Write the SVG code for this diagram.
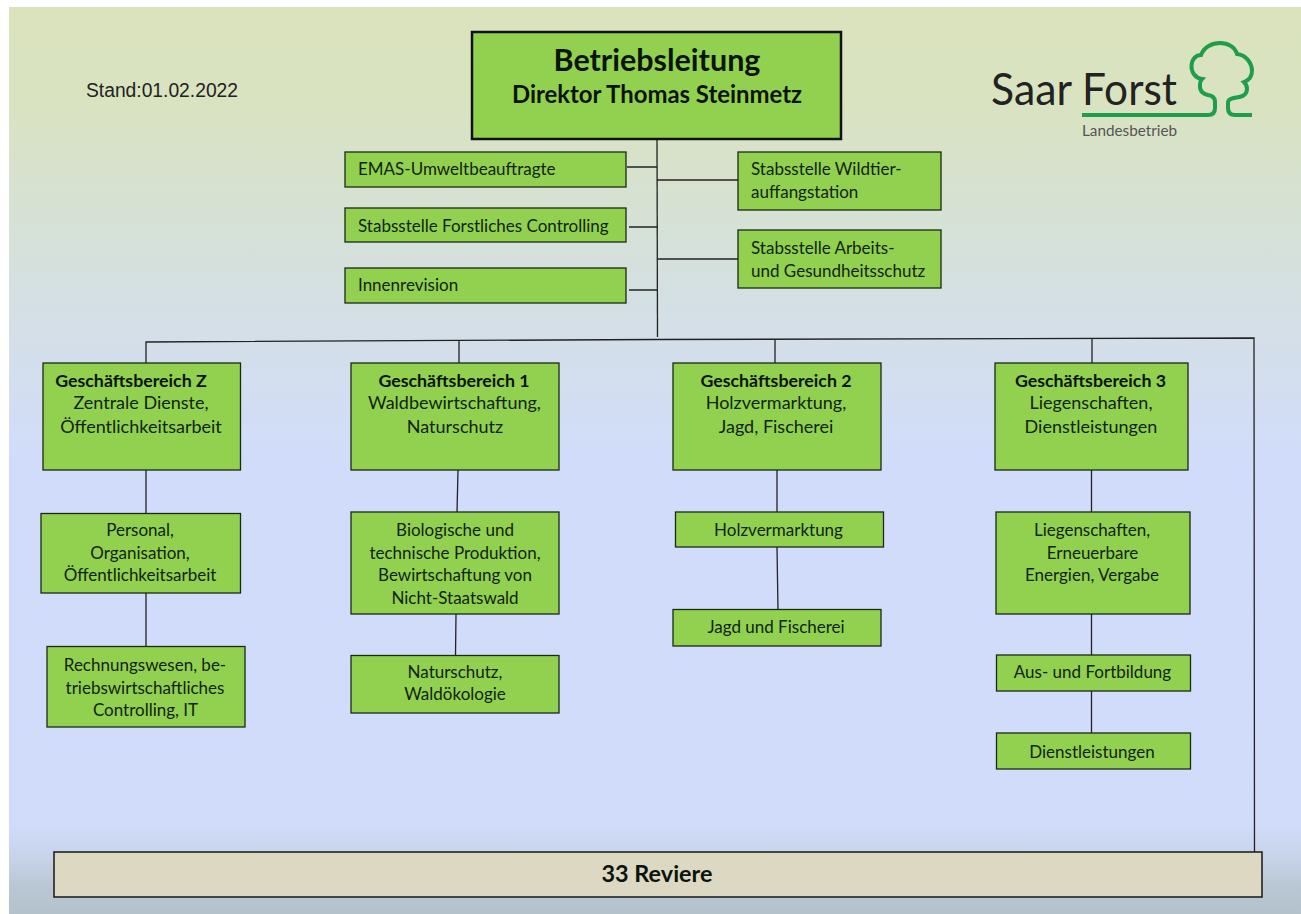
<svg xmlns="http://www.w3.org/2000/svg" width="1301" height="914" viewBox="0 0 1301 914">
<defs>
<linearGradient id="bg" x1="0" y1="0" x2="0" y2="1">
<stop offset="0" stop-color="#dae3bd"/><stop offset="0.1" stop-color="#d9e3c0"/><stop offset="0.3" stop-color="#d5e0e0"/><stop offset="0.5" stop-color="#d1dcfb"/><stop offset="0.9" stop-color="#d1dcfb"/><stop offset="0.94" stop-color="#c6d3e8"/><stop offset="0.97" stop-color="#b8c7d3"/><stop offset="1" stop-color="#b3c2cb"/>
</linearGradient>
</defs>
<style>
text{font-family:Lato,"Liberation Sans",sans-serif;fill:#10240f;font-size:17px}
.g{font-size:18px}
.b{font-weight:700;font-size:17.8px;fill:#0b140a}
.m{text-anchor:middle}
.box{fill:#92d14f;stroke:#1a2a16;stroke-width:1.3}
.c{fill:none;stroke:#222;stroke-width:1.3}
</style>
<rect width="1301" height="914" fill="#fff"/>
<rect x="9" y="7" width="1292" height="907" fill="url(#bg)"/>
<text x="86" y="97" textLength="152" lengthAdjust="spacingAndGlyphs" style="font-family:'Liberation Sans',sans-serif;font-size:20px;fill:#222">Stand:01.02.2022</text>
<g id="connectors">
<path class="c" d="M657 139L657.5 337"/>
<path class="c" d="M627 167H657M657 180H738M629 227H658M657.5 259H738M629 290H658"/>
<path class="c" d="M146 363V342L657 339.500L1254 338L1254.500 852"/>
<path class="c" d="M459 341V363M775 340V363M1092 339V363"/>
<path class="c" d="M146 470V514M146 593V647M458 470L457 512M456 614L455.500 656M777 470V512M777 547L778 610M1091.500 470V512M1091.500 614V655M1091.500 691V733"/>
</g>
<g id="n0"><rect x="472" y="32" width="369" height="107" style="fill:#92d14f;stroke:#111;stroke-width:2.5"/>
<text x="657" y="71" class="b m" style="font-size:30.5px">Betriebsleitung</text><text x="657" y="103" class="b m" style="font-size:23.9px">Direktor Thomas Steinmetz</text></g>
<g id="n1"><rect class="box" x="345" y="152" width="281" height="35"/><text x="358" y="175">EMAS-Umweltbeauftragte</text></g>
<g id="n2"><rect class="box" x="345" y="208" width="281" height="34"/><text x="358" y="232">Stabsstelle Forstliches Controlling</text></g>
<g id="n3"><rect class="box" x="345" y="268" width="281" height="35"/><text x="358" y="291">Innenrevision</text></g>
<g id="n4"><rect class="box" x="738" y="152" width="203" height="58"/><text x="751" y="175">Stabsstelle Wildtier-</text><text x="751" y="198">auffangstation</text></g>
<g id="n5"><rect class="box" x="738" y="230" width="203" height="58"/><text x="751" y="254">Stabsstelle Arbeits-</text><text x="751" y="277">und Gesundheitsschutz</text></g>
<g id="z"><rect class="box" x="43" y="363" width="197.500" height="107"/><text x="131" y="387" class="b m">Geschäftsbereich Z</text><text x="141" y="409" class="m g">Zentrale Dienste,</text><text x="141" y="433" class="m g">Öffentlichkeitsarbeit</text></g>
<g id="g1"><rect class="box" x="351" y="363" width="208" height="107"/><text x="454" y="387" class="b m">Geschäftsbereich 1</text><text x="454.500" y="409" class="m g">Waldbewirtschaftung,</text><text x="455" y="433" class="m g">Naturschutz</text></g>
<g id="g2"><rect class="box" x="673" y="363" width="208" height="107"/><text x="776" y="387" class="b m">Geschäftsbereich 2</text><text x="776" y="409" class="m g">Holzvermarktung,</text><text x="776" y="433" class="m g">Jagd, Fischerei</text></g>
<g id="g3"><rect class="box" x="995" y="363" width="193" height="107"/><text x="1090.500" y="387" class="b m">Geschäftsbereich 3</text><text x="1091" y="409" class="m g">Liegenschaften,</text><text x="1091" y="433" class="m g">Dienstleistungen</text></g>
<g id="z1"><rect class="box" x="41" y="513.500" width="199.500" height="79.500"/><text x="140" y="536" class="m">Personal,</text><text x="140" y="559" class="m">Organisation,</text><text x="140" y="581" class="m">Öffentlichkeitsarbeit</text></g>
<g id="z2"><rect class="box" x="47" y="646.500" width="198" height="80.500"/><text x="145" y="671" class="m">Rechnungswesen, be-</text><text x="145" y="694" class="m">triebswirtschaftliches</text><text x="145.500" y="716" class="m">Controlling, IT</text></g>
<g id="a1"><rect class="box" x="351" y="512" width="208" height="102"/><text x="455" y="536" class="m">Biologische und</text><text x="455" y="559" class="m">technische Produktion,</text><text x="455" y="581" class="m">Bewirtschaftung von</text><text x="455" y="604" class="m">Nicht-Staatswald</text></g>
<g id="a2"><rect class="box" x="351" y="655.500" width="208" height="57.500"/><text x="455" y="678" class="m">Naturschutz,</text><text x="455" y="700" class="m">Waldökologie</text></g>
<g id="b1"><rect class="box" x="675.500" y="512" width="208" height="35"/><text x="778.500" y="536" class="m">Holzvermarktung</text></g>
<g id="b2"><rect class="box" x="673" y="609.500" width="208" height="36.500"/><text x="776" y="633" class="m">Jagd und Fischerei</text></g>
<g id="c1"><rect class="box" x="996" y="512" width="194" height="102"/><text x="1092" y="536" class="m">Liegenschaften,</text><text x="1092.500" y="559" class="m">Erneuerbare</text><text x="1092" y="581" class="m">Energien, Vergabe</text></g>
<g id="c2"><rect class="box" x="996.500" y="655" width="194" height="36"/><text x="1092.500" y="678" class="m">Aus- und Fortbildung</text></g>
<g id="c3"><rect class="box" x="996.500" y="733" width="194" height="36"/><text x="1092" y="758" class="m">Dienstleistungen</text></g>
<g id="rev"><rect x="54" y="852" width="1208" height="45" style="fill:#ddd8c2;stroke:#222;stroke-width:1.6"/><text x="657" y="882" class="b m" style="font-size:23.400px">33 Reviere</text></g>
<g id="logo">
<text x="991" y="105" textLength="81" lengthAdjust="spacingAndGlyphs" style="font-size:44px;fill:#222">Saar</text>
<text x="1082" y="105" textLength="95" lengthAdjust="spacingAndGlyphs" style="font-size:44px;fill:#222">Forst</text>
<path d="M1082 115H1208Q1215 115 1215 108V102Q1215 96 1208 95Q1199 93 1200 84C1200 81 1201 80 1202 79C1195 78 1191 72 1191.500 65C1192 59 1196 55 1201 55C1204 47 1212 43 1220 43C1228 43 1235 47 1237 54C1246 55 1252 63 1252 71C1252 76 1249 80 1244 82C1248 86 1248 92 1244 95C1241 98 1232 97 1229 100Q1228 101 1228 104V108Q1228 115 1235 115H1252" fill="none" stroke="#1e9e4a" stroke-width="4"/>
<text x="1082" y="136" textLength="95" lengthAdjust="spacingAndGlyphs" style="font-size:14.500px;fill:#555">Landesbetrieb</text>
</g>
</svg>
